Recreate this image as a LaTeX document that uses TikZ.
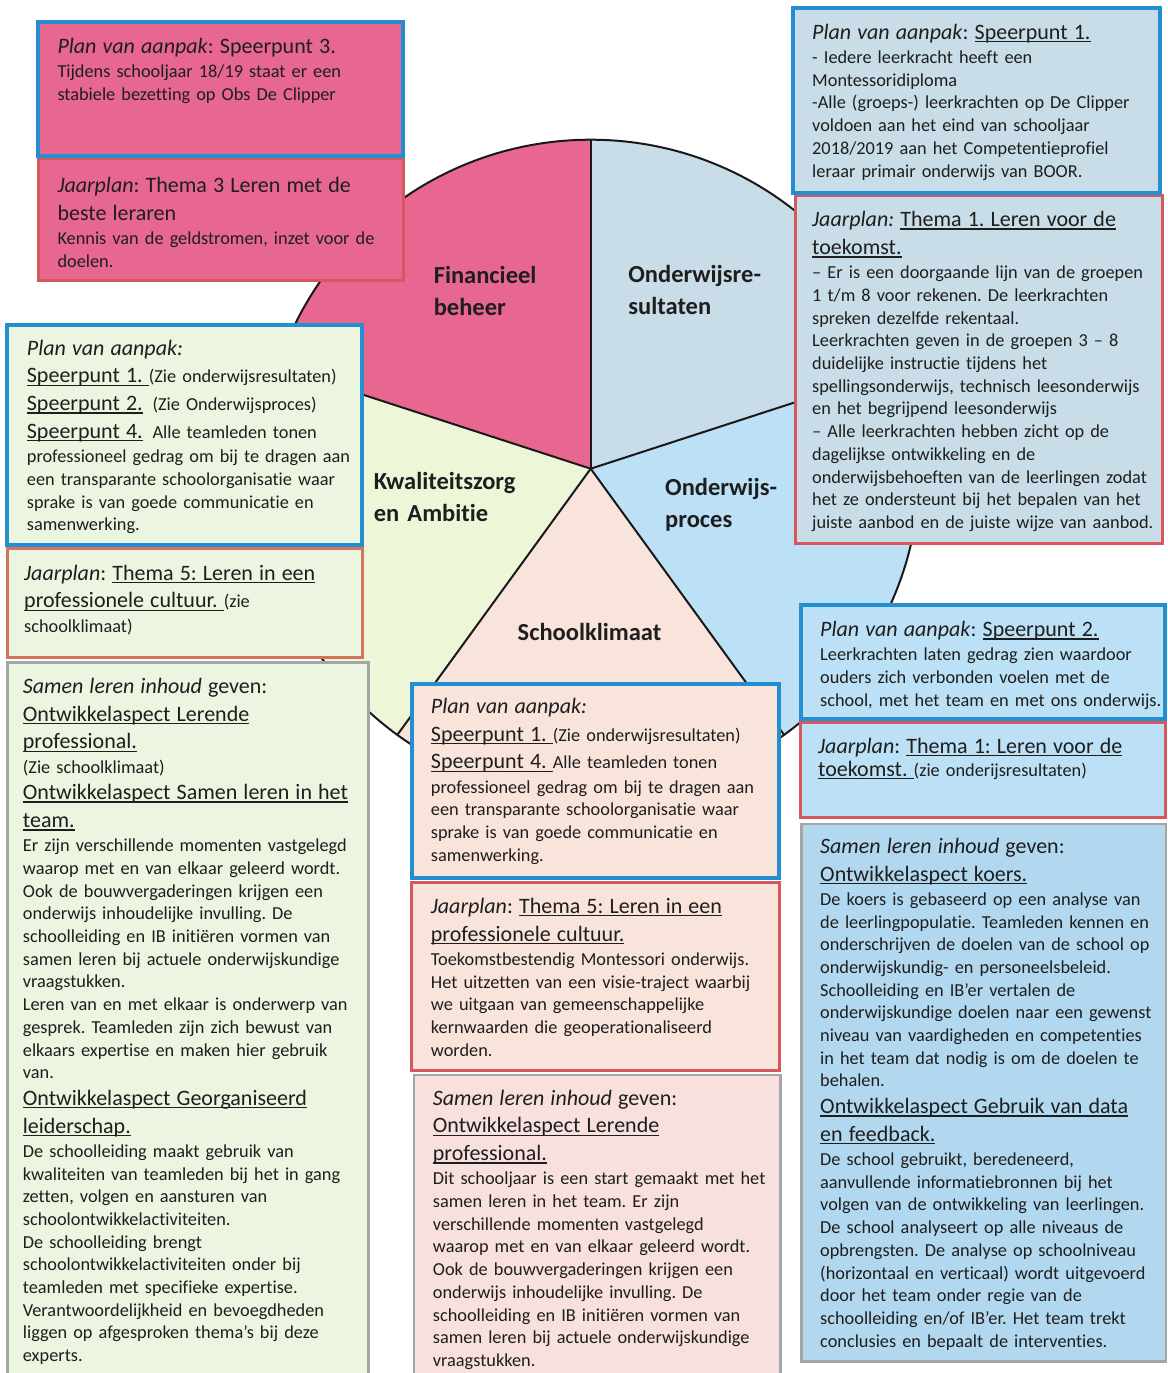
\documentclass[tikz,border=0pt]{standalone}
\usepackage{fontspec}
\setmainfont{Carlito}[Ligatures={NoCommon}]
\frenchspacing
\newsavebox\ulbox
\newcommand\Ul[1]{\sbox\ulbox{#1}\leavevmode\rlap{\rule[-3pt]{\wd\ulbox}{1.3pt}}\usebox\ulbox}
\definecolor{pinkF}{RGB}{231,103,144}
\definecolor{greyblue}{RGB}{200,221,231}
\definecolor{procblue}{RGB}{188,224,246}
\definecolor{lblueM}{RGB}{178,216,240}
\definecolor{peach}{RGB}{249,228,220}
\definecolor{peachJ}{RGB}{247,224,222}
\definecolor{lgreen}{RGB}{236,245,223}
\definecolor{secgreen}{RGB}{238,246,216}
\definecolor{bordblue}{RGB}{35,142,208}
\definecolor{bordred}{RGB}{214,88,92}
\definecolor{bordsalmon}{RGB}{214,115,95}
\definecolor{bordgray}{RGB}{165,165,165}
\definecolor{txtc}{RGB}{30,30,30}
\newcommand\Hd{\fontsize{22}{27.8}\selectfont}
\newcommand\Bd{\fontsize{18.3}{22.7}\selectfont}
\newcommand\HB{\par\vspace{1.5pt}\Bd}
\newcommand\BH{\par\vspace{-1.2pt}\Hd}
\newcommand\pielfont{\fontsize{24.5}{32}\selectfont\bfseries}
\tikzset{
  bx/.style={rectangle, inner sep=0pt, outer sep=0pt, anchor=north west},
  bluebx/.style={bx, draw=bordblue, line width=4pt},
  redbx/.style={bx, draw=bordred, line width=3pt},
  salbx/.style={bx, draw=bordsalmon, line width=3pt},
  graybx/.style={bx, draw=bordgray, line width=2.5pt},
  txt/.style={anchor=base west, inner sep=0pt, text width=420pt, align=left, text=txtc, font=\Bd},
  pielbl/.style={anchor=base west, inner sep=0pt, text width=220pt, align=left, text=txtc, font=\pielfont},
  pieline/.style={draw=black!90, line width=2pt},
}
\begin{document}
\begin{tikzpicture}[x=1pt,y=-1pt]
\useasboundingbox[fill=white] (0,0) rectangle (1167,1373);
% ---------- pie ----------
\begin{scope}[shift={(590.7,468.7)}, y=1pt]
\fill[pinkF] (0,0) -- (90:329) arc[start angle=90,end angle=162,radius=329] -- cycle;
\fill[greyblue] (0,0) -- (18:329) arc[start angle=18,end angle=90,radius=329] -- cycle;
\fill[procblue] (0,0) -- (-54:329) arc[start angle=-54,end angle=18,radius=329] -- cycle;
\fill[peach] (0,0) -- (-126:329) arc[start angle=-126,end angle=-54,radius=329] -- cycle;
\fill[secgreen] (0,0) -- (162:329) arc[start angle=162,end angle=234,radius=329] -- cycle;
\draw[pieline] (0,0) circle[radius=329];
\foreach \a in {90,18,-54,-126,162} \draw[pieline] (0,0) -- (\a:329);
\end{scope}
\node[pielbl] (lF) at (433.6,283) {Financieel\\beheer};
\node[pielbl] (lO) at (628.2,282.3) {Onderwijsre-\\sultaten};
\node[pielbl] (lK) at (373.6,489.7) {Kwaliteitszorg\\en Ambitie};
\node[pielbl] (lP) at (665,495.5) {Onderwijs-\\proces};
\node[anchor=base, inner sep=0pt, text=txtc, font=\pielfont] (lS) at (589.5,640.9) {Schoolklimaat};
% ---------- boxes ----------
\node[redbx, fill=pinkF, minimum width=364.7pt, minimum height=122pt] (bB) at (38.3,158.5) {};
\node[bluebx, fill=pinkF, minimum width=364.7pt, minimum height=134.3pt] (bA) at (38.3,21.7) {};
\node[redbx, fill=greyblue, minimum width=367pt, minimum height=347.5pt] (bD) at (795,195.5) {};
\node[bluebx, fill=greyblue, minimum width=367pt, minimum height=185pt] (bC) at (793,8) {};
\node[salbx, fill=lgreen, minimum width=355.2pt, minimum height=109pt] (bF) at (7.3,548) {};
\node[bluebx, fill=lgreen, minimum width=354.4pt, minimum height=220pt] (bE) at (7.3,325) {};
\node[graybx, fill=lgreen, minimum width=361pt, minimum height=720pt] (bG) at (7.5,662.7) {};
\node[redbx, fill=peach, minimum width=367.3pt, minimum height=188pt] (bI) at (411.7,882) {};
\node[bluebx, fill=peach, minimum width=367.3pt, minimum height=194.3pt] (bH) at (411.7,684) {};
\node[graybx, fill=peachJ, minimum width=366.5pt, minimum height=310pt] (bJ) at (414,1075) {};
\node[redbx, fill=procblue, minimum width=364.5pt, minimum height=95pt] (bL) at (800.5,722) {};
\node[bluebx, fill=procblue, minimum width=364.5pt, minimum height=114pt] (bK) at (800.5,605) {};
\node[graybx, fill=lblueM, minimum width=364.3pt, minimum height=537.7pt] (bM) at (801.7,824) {};
% ---------- texts ----------
\node[txt] (tA) at (57.3,53.3) {\Hd\textit{Plan van aanpak}: Speerpunt 3.\HB
Tijdens schooljaar 18/19 staat er een\\
stabiele bezetting op Obs De Clipper};
\node[txt] (tB) at (57.3,192.7) {\Hd\textit{Jaarplan}: Thema 3 Leren met de\\
beste leraren\HB
Kennis van de geldstromen, inzet voor de\\
doelen.};
\node[txt] (tC) at (812,39.3) {\Hd\textit{Plan van aanpak}: \Ul{Speerpunt 1.}\HB
- Iedere leerkracht heeft een\\
Montessoridiploma\\
-Alle (groeps-) leerkrachten op De Clipper\\
voldoen aan het eind van schooljaar\\
2018/2019 aan het Competentieprofiel\\
leraar primair onderwijs van BOOR.};
\node[txt] (tD) at (812,226.7) {\Hd\textit{Jaarplan:} \Ul{Thema 1. Leren voor de}\\
\Ul{toekomst.}\HB
– Er is een doorgaande lijn van de groepen\\
1 t/m 8 voor rekenen. De leerkrachten\\
spreken dezelfde rekentaal.\\
Leerkrachten geven in de groepen 3 – 8\\
duidelijke instructie tijdens het\\
spellingsonderwijs, technisch leesonderwijs\\
en het begrijpend leesonderwijs\\
– Alle leerkrachten hebben zicht op de\\
dagelijkse ontwikkeling en de\\
onderwijsbehoeften van de leerlingen zodat\\
het ze ondersteunt bij het bepalen van het\\
juiste aanbod en de juiste wijze van aanbod.};
\node[txt] (tE) at (26.7,355) {\Hd\textit{Plan van aanpak:}\\
\Ul{Speerpunt 1.~}{\Bd(Zie onderwijsresultaten)}\\
\Ul{Speerpunt 2.}\ \,{\Bd(Zie Onderwijsproces)}\\
\Ul{Speerpunt 4.}\ \,{\Bd Alle teamleden tonen}\HB
professioneel gedrag om bij te dragen aan\\
een transparante schoolorganisatie waar\\
sprake is van goede communicatie en\\
samenwerking.};
\node[txt] (tF) at (24,580) {\Hd\textit{Jaarplan}: \Ul{Thema 5: Leren in een}\\
\Ul{professionele cultuur.~}{\Bd(zie}\HB
schoolklimaat)};
\node[txt] (tG) at (22.7,693.3) {\Hd\textit{Samen leren inhoud} geven:\\
\Ul{Ontwikkelaspect Lerende}\\
\Ul{professional.}\HB
(Zie schoolklimaat)\BH
\Ul{Ontwikkelaspect Samen leren in het}\\
\Ul{team.}\HB
Er zijn verschillende momenten vastgelegd\\
waarop met en van elkaar geleerd wordt.\\
Ook de bouwvergaderingen krijgen een\\
onderwijs inhoudelijke invulling. De\\
schoolleiding en IB initiëren vormen van\\
samen leren bij actuele onderwijskundige\\
vraagstukken.\\
Leren van en met elkaar is onderwerp van\\
gesprek. Teamleden zijn zich bewust van\\
elkaars expertise en maken hier gebruik\\
van.\BH
\Ul{Ontwikkelaspect Georganiseerd}\\
\Ul{leiderschap.}\HB
De schoolleiding maakt gebruik van\\
kwaliteiten van teamleden bij het in gang\\
zetten, volgen en aansturen van\\
schoolontwikkelactiviteiten.\\
De schoolleiding brengt\\
schoolontwikkelactiviteiten onder bij\\
teamleden met specifieke expertise.\\
Verantwoordelijkheid en bevoegdheden\\
liggen op afgesproken thema’s bij deze\\
experts.};
\node[txt] (tH) at (430.7,713.3) {\Hd\textit{Plan van aanpak:}\\
\Ul{Speerpunt 1.~}{\Bd(Zie onderwijsresultaten)}\\
\Ul{Speerpunt 4.~}{\Bd Alle teamleden tonen}\HB
professioneel gedrag om bij te dragen aan\\
een transparante schoolorganisatie waar\\
sprake is van goede communicatie en\\
samenwerking.};
\node[txt] (tI) at (430.7,913.3) {\Hd\textit{Jaarplan}: \Ul{Thema 5: Leren in een}\\
\Ul{professionele cultuur.}\HB
Toekomstbestendig Montessori onderwijs.\\
Het uitzetten van een visie-traject waarbij\\
we uitgaan van gemeenschappelijke\\
kernwaarden die geoperationaliseerd\\
worden.};
\node[txt] (tJ) at (432.7,1105) {\Hd\textit{Samen leren inhoud} geven:\\
\Ul{Ontwikkelaspect Lerende}\\
\Ul{professional.}\HB
Dit schooljaar is een start gemaakt met het\\
samen leren in het team. Er zijn\\
verschillende momenten vastgelegd\\
waarop met en van elkaar geleerd wordt.\\
Ook de bouwvergaderingen krijgen een\\
onderwijs inhoudelijke invulling. De\\
schoolleiding en IB initiëren vormen van\\
samen leren bij actuele onderwijskundige\\
vraagstukken.};
\node[txt] (tK) at (820,636.7) {\Hd\textit{Plan van aanpak}: \Ul{Speerpunt 2.}\HB
Leerkrachten laten gedrag zien waardoor\\
ouders zich verbonden voelen met de\\
school, met het team en met ons onderwijs.};
\node[txt] (tL) at (818,753.3) {\Hd\textit{Jaarplan}: \Ul{Thema 1: Leren voor de}\\
\Ul{toekomst.~}{\Bd(zie onderijsresultaten)}};
\node[txt] (tM) at (820,853.3) {\Hd\textit{Samen leren inhoud} geven:\\
\Ul{Ontwikkelaspect koers.}\HB
De koers is gebaseerd op een analyse van\\
de leerlingpopulatie. Teamleden kennen en\\
onderschrijven de doelen van de school op\\
onderwijskundig- en personeelsbeleid.\\
Schoolleiding en IB’er vertalen de\\
onderwijskundige doelen naar een gewenst\\
niveau van vaardigheden en competenties\\
in het team dat nodig is om de doelen te\\
behalen.\BH
\Ul{Ontwikkelaspect Gebruik van data}\\
\Ul{en feedback.}\HB
De school gebruikt, beredeneerd,\\
aanvullende informatiebronnen bij het\\
volgen van de ontwikkeling van leerlingen.\\
De school analyseert op alle niveaus de\\
opbrengsten. De analyse op schoolniveau\\
(horizontaal en verticaal) wordt uitgevoerd\\
door het team onder regie van de\\
schoolleiding en/of IB’er. Het team trekt\\
conclusies en bepaalt de interventies.};
\end{tikzpicture}
\end{document}
